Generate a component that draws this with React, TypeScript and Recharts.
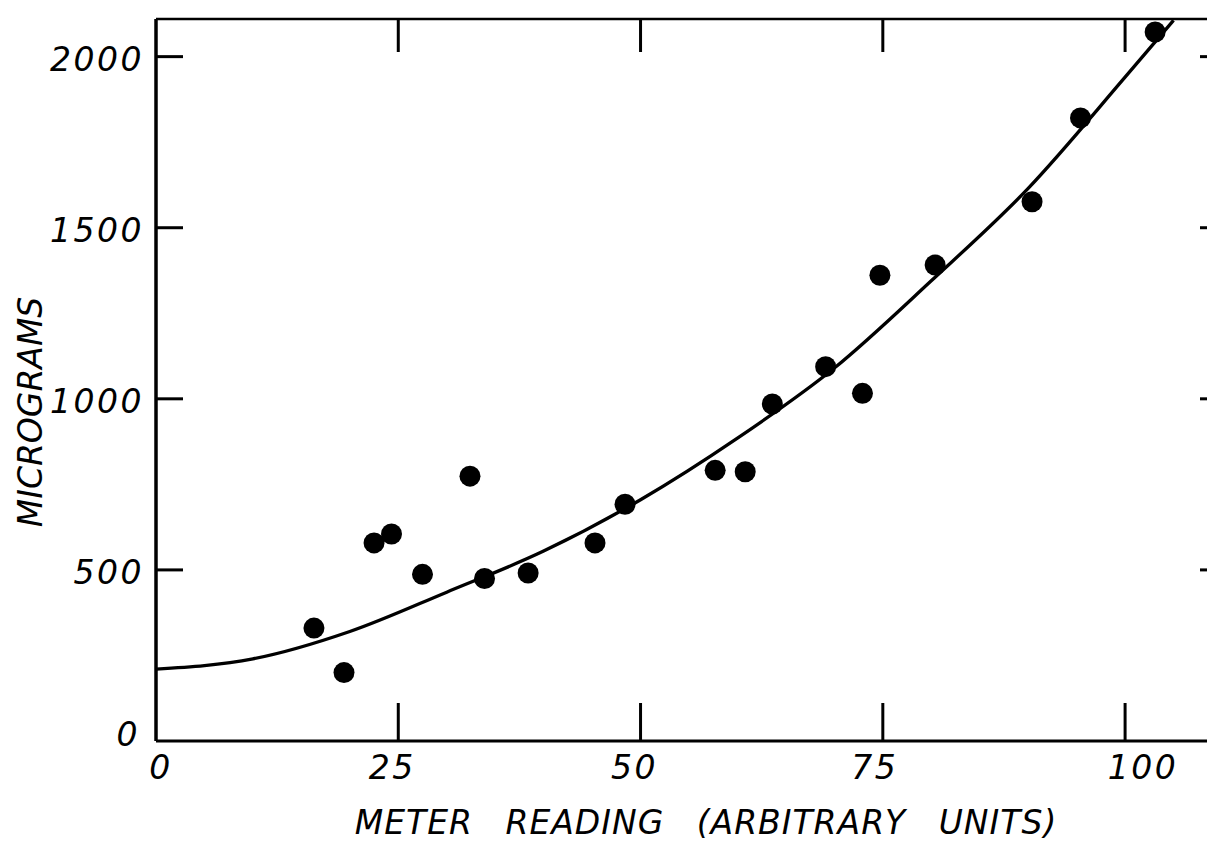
import { ComposedChart, Scatter, Line, XAxis, YAxis } from 'recharts';

// measured points (meter reading vs micrograms)
const meterReading = [16.3, 19.4, 22.5, 24.3, 27.5, 32.4, 33.9, 38.4, 45.3, 48.4, 57.7, 60.8, 63.6, 69.1, 72.9, 74.7, 80.4, 90.4, 95.4, 103.1];
const micrograms = [330, 200, 579, 605, 487, 774, 475, 491, 579, 692, 791, 787, 985, 1094, 1016, 1361, 1391, 1576, 1821, 2072];

// hand-drawn calibration curve
const curveReading = [0, 10, 20, 30, 40, 50, 60, 70, 80, 90, 100, 105];
const curveMicrograms = [210, 240, 320, 435, 555, 705, 885, 1090, 1345, 1615, 1940, 2106];

const xTicks = [0, 25, 50, 75, 100];
const yTicks = [0, 500, 1000, 1500, 2000];

const points = meterReading.map((x, i) => ({ x, y: micrograms[i] }));
const curve = curveReading.map((x, i) => ({ x, y: curveMicrograms[i] }));

const INK = '#000';
const lettering = {
  fontFamily: '"DejaVu Sans", sans-serif',
  fontStyle: 'italic' as const,
  fill: INK,
};

const xLabelShift: Record<number, number> = { 0: 5, 25: -6, 50: -6, 75: -8, 100: 18 };

function BottomTick({ x, y, payload }: any) {
  const v = payload.value;
  return (
    <g>
      {v !== 0 && <line x1={x} x2={x} y1={y} y2={y - 38} stroke={INK} strokeWidth={3} />}
      <text
        x={x + (xLabelShift[v] ?? 0)}
        y={y + 26}
        textAnchor="middle"
        dominantBaseline="central"
        fontSize={33}
        style={{ letterSpacing: 2.5 }}
        {...lettering}
      >
        {v}
      </text>
    </g>
  );
}

function TopTick({ x, y }: any) {
  return <line x1={x} x2={x} y1={y} y2={y + 33} stroke={INK} strokeWidth={3} />;
}

function LeftTick({ x, y, payload }: any) {
  const v = payload.value;
  return (
    <g>
      {v !== 0 && <line x1={x} x2={x + 27} y1={y} y2={y} stroke={INK} strokeWidth={3} />}
      <text
        x={x - (v === 0 ? 16 : 12)}
        y={v === 0 ? y - 7 : y + 3}
        textAnchor="end"
        dominantBaseline="central"
        fontSize={33}
        style={{ letterSpacing: 2.5 }}
        {...lettering}
      >
        {v}
      </text>
    </g>
  );
}

function RightTick({ x, y }: any) {
  return <line x1={x} x2={x - 22} y1={y} y2={y} stroke={INK} strokeWidth={3} />;
}

function XTitle({ viewBox }: any) {
  return (
    <text
      x={viewBox.x + 550}
      y={viewBox.y + 81}
      textAnchor="middle"
      dominantBaseline="central"
      fontSize={33}
      style={{ letterSpacing: 1, wordSpacing: 21 }}
      {...lettering}
    >
      METER READING (ARBITRARY UNITS)
    </text>
  );
}

function YTitle({ viewBox }: any) {
  const cx = viewBox.x + viewBox.width - 126;
  const cy = 404;
  return (
    <text
      x={cx}
      y={cy}
      transform={`rotate(-90, ${cx}, ${cy})`}
      textAnchor="middle"
      dominantBaseline="central"
      fontSize={33}
      {...lettering}
    >
      MICROGRAMS
    </text>
  );
}

const Dot = (props: any) => <circle cx={props.cx} cy={props.cy} r={10.5} fill={INK} />;

export default function App() {
  return (
    <div style={{ width: 1207, height: 835, overflow: 'hidden', background: '#fff' }}>
      <ComposedChart
        width={1240}
        height={835}
        margin={{ top: 10, right: 25, bottom: 101, left: 147 }}
      >
        <XAxis
          xAxisId="bottom"
          type="number"
          dataKey="x"
          domain={[0, 110]}
          ticks={xTicks}
          height={1}
          tickSize={0}
          tickMargin={0}
          tickLine={false}
          axisLine={{ stroke: INK, strokeWidth: 3 }}
          tick={<BottomTick />}
          interval={0}
          allowDataOverflow
          label={XTitle}
        />
        <XAxis
          xAxisId="top"
          orientation="top"
          type="number"
          dataKey="x"
          domain={[0, 110]}
          ticks={[25, 50, 75, 100]}
          height={1}
          tickSize={0}
          tickMargin={0}
          tickLine={false}
          axisLine={{ stroke: INK, strokeWidth: 2.5 }}
          tick={<TopTick />}
          interval={0}
          allowDataOverflow
        />
        <YAxis
          yAxisId="left"
          type="number"
          dataKey="y"
          domain={[0, 2110]}
          ticks={yTicks}
          width={1}
          tickSize={0}
          tickMargin={0}
          tickLine={false}
          axisLine={{ stroke: INK, strokeWidth: 3.5 }}
          tick={<LeftTick />}
          interval={0}
          allowDataOverflow
          label={YTitle}
        />
        <YAxis
          yAxisId="right"
          orientation="right"
          type="number"
          dataKey="y"
          domain={[0, 2110]}
          ticks={[500, 1000, 1500, 2000]}
          width={1}
          tickSize={0}
          tickMargin={0}
          tickLine={false}
          axisLine={{ stroke: INK, strokeWidth: 3 }}
          tick={<RightTick />}
          interval={0}
          allowDataOverflow
        />
        <Line
          xAxisId="bottom"
          yAxisId="left"
          data={curve}
          dataKey="y"
          type="monotone"
          stroke={INK}
          strokeWidth={3.3}
          dot={false}
          activeDot={false}
          isAnimationActive={false}
        />
        <Scatter
          xAxisId="bottom"
          yAxisId="left"
          data={points}
          dataKey="y"
          shape={Dot}
          isAnimationActive={false}
        />
      </ComposedChart>
    </div>
  );
}
